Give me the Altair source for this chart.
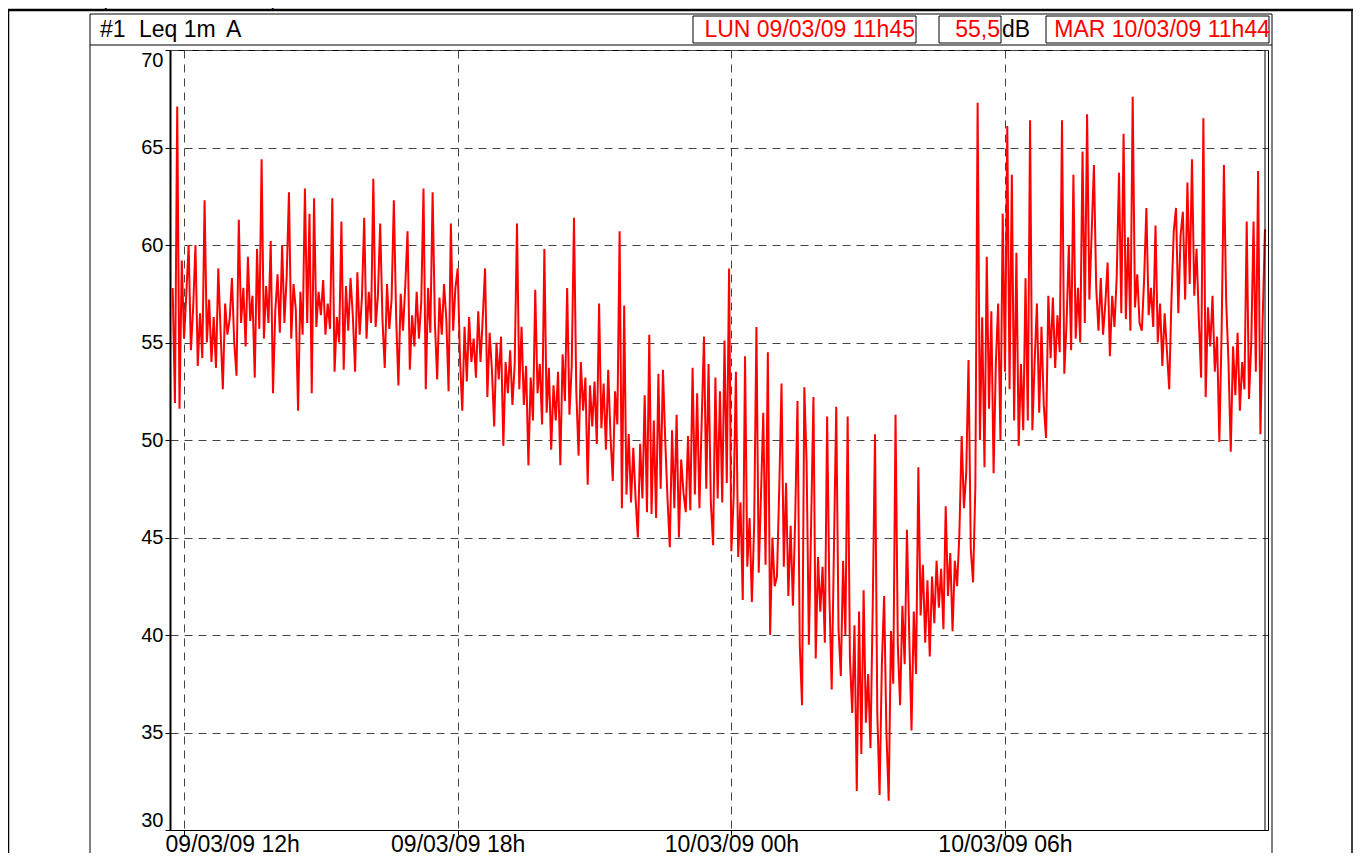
import altair as alt
import pandas as pd

# ---------------- texts ----------------
TITLE = "Profilo temporale del livello equivalente di rumore"
CHANNEL_ID = "#1"
CHANNEL_NAME = "Leq 1m"
CHANNEL_WEIGHT = "A"
START_LABEL = "LUN 09/03/09 11h45"
END_LABEL = "MAR 10/03/09 11h44"
LEQ_TOTAL = "55,5"
UNIT = "dB"

X_TICKS = [720, 1080, 1440, 1800]          # minutes since 09/03/09 00h
X_TICK_LABELS = ["09/03/09 12h", "09/03/09 18h", "10/03/09 00h", "10/03/09 06h"]
Y_TICKS = [30, 35, 40, 45, 50, 55, 60, 65, 70]

START_MIN = 705   # 11h45
STEP_MIN = 3

# ---------------- Leq 1m values (dB(A)) ----------------
leq_11h45 = [57.8, 51.9, 67.1, 51.6, 59.2]
leq_12h = [55.2, 57.5, 60.0, 54.6, 56.8, 60.0, 53.8, 56.5, 54.2, 62.3,
           55.0, 57.2, 54.0, 56.3, 53.7, 58.8, 55.6, 52.6, 57.0, 55.4]
leq_13h = [56.2, 58.3, 55.0, 53.3, 61.3, 56.0, 57.8, 54.8, 59.4, 56.1,
           57.4, 53.2, 59.8, 55.7, 64.4, 55.2, 57.9, 56.0, 60.2, 52.4]
leq_14h = [56.6, 58.5, 55.5, 60.0, 56.0, 58.4, 62.7, 55.2, 58.0, 56.7,
           51.5, 57.6, 55.4, 62.9, 56.0, 61.6, 52.4, 62.4, 55.8, 57.6]
leq_15h = [56.4, 58.2, 55.4, 57.0, 55.7, 62.4, 53.5, 56.3, 55.0, 61.2,
           53.6, 57.9, 55.6, 58.3, 56.4, 53.5, 58.6, 55.4, 57.3, 61.4]
leq_16h = [55.2, 57.6, 56.0, 63.4, 55.8, 57.4, 61.1, 56.2, 53.7, 58.0,
           55.7, 57.2, 62.3, 56.3, 52.8, 57.5, 55.6, 57.9, 60.7, 53.6]
leq_17h = [56.4, 54.8, 57.6, 55.2, 57.0, 62.9, 52.6, 57.8, 55.5, 62.7,
           56.0, 53.1, 57.3, 55.4, 58.0, 56.2, 52.5, 61.1, 55.6, 57.8]
leq_18h = [58.8, 54.2, 51.5, 55.8, 53.0, 56.3, 54.0, 55.2, 53.2, 56.6,
           54.0, 56.3, 58.8, 52.2, 55.5, 53.6, 50.7, 55.0, 53.1, 55.3]
leq_19h = [49.7, 54.0, 52.4, 54.6, 51.8, 53.9, 61.1, 52.6, 55.8, 51.8,
           53.8, 48.7, 53.2, 51.0, 57.7, 52.4, 53.9, 50.8, 59.8, 51.4]
leq_20h = [53.7, 49.5, 52.8, 51.0, 53.5, 48.7, 54.4, 52.0, 57.8, 51.3,
           53.8, 61.4, 52.5, 49.2, 54.0, 51.5, 53.2, 47.7, 52.8, 50.7]
leq_21h = [53.0, 49.8, 57.0, 50.6, 52.9, 49.5, 53.6, 50.2, 47.9, 52.5,
           50.8, 60.7, 46.5, 56.9, 47.2, 50.3, 46.8, 49.6, 47.0, 45.0]
leq_22h = [49.8, 47.0, 52.3, 46.3, 55.4, 46.2, 51.0, 46.0, 53.4, 47.5,
           53.6, 50.0, 47.0, 44.5, 50.5, 46.5, 51.3, 45.0, 49.0, 47.3]
leq_23h = [46.3, 50.2, 46.4, 53.7, 47.2, 52.4, 46.5, 51.0, 55.3, 47.5,
           53.9, 46.8, 44.6, 53.2, 47.0, 52.5, 46.8, 55.1, 47.8, 58.8]
leq_00h = [44.3, 47.0, 53.5, 44.0, 46.8, 41.8, 54.3, 43.5, 46.0, 41.7,
           45.6, 55.8, 43.2, 47.2, 51.4, 43.6, 54.5, 40.0, 45.0, 42.5]
leq_01h = [43.0, 47.5, 52.9, 43.5, 47.8, 42.0, 45.6, 41.5, 46.0, 52.0,
           39.5, 36.4, 52.7, 48.8, 39.5, 45.8, 52.2, 38.8, 44.0, 41.2]
leq_02h = [43.5, 39.6, 51.2, 42.0, 37.2, 44.5, 51.7, 40.3, 37.9, 43.8,
           40.0, 51.2, 38.8, 36.0, 40.5, 32.0, 41.2, 33.9, 42.3, 35.5]
leq_03h = [38.0, 34.2, 41.5, 50.3, 36.0, 31.8, 38.5, 42.0, 35.0, 31.5,
           40.2, 37.5, 51.3, 39.5, 36.4, 41.5, 38.5, 45.4, 40.0, 35.1]
leq_04h = [41.2, 38.0, 48.6, 41.0, 43.6, 39.6, 42.8, 38.9, 43.0, 40.6,
           43.8, 41.4, 43.4, 40.3, 46.6, 42.0, 44.2, 40.2, 43.8, 42.5]
leq_05h = [45.2, 50.2, 46.5, 48.3, 54.1, 44.4, 42.7, 47.6, 67.3, 50.0,
           56.3, 48.6, 59.4, 51.6, 56.6, 48.3, 54.0, 57.0, 50.0, 61.6]
leq_06h = [53.5, 66.1, 52.6, 63.6, 51.0, 59.6, 49.7, 53.9, 50.5, 58.3,
           51.0, 66.4, 50.5, 54.0, 57.0, 51.4, 55.8, 51.8, 50.1, 57.4]
leq_07h = [54.2, 57.3, 53.7, 56.4, 54.5, 66.4, 53.4, 56.0, 60.0, 54.6,
           63.6, 55.2, 57.8, 55.0, 64.8, 56.0, 66.7, 57.2, 60.6, 64.1]
leq_08h = [57.8, 55.6, 58.3, 55.4, 57.0, 59.1, 54.3, 57.4, 55.8, 58.4,
           63.7, 56.5, 65.7, 56.2, 60.4, 55.6, 67.6, 56.8, 58.5, 56.0]
leq_09h = [55.6, 58.2, 61.9, 56.4, 57.8, 55.8, 61.0, 55.0, 57.0, 53.8,
           56.5, 54.6, 52.6, 57.2, 60.7, 61.9, 56.5, 60.5, 61.7, 57.2]
leq_10h = [63.2, 58.0, 64.4, 57.4, 59.8, 56.2, 53.2, 66.5, 52.2, 56.8,
           54.8, 57.4, 53.5, 55.3, 49.9, 55.6, 64.1, 57.1, 54.0, 49.4]
leq_11h = [54.8, 52.3, 55.5, 51.5, 54.0, 52.6, 61.2, 52.1, 55.0, 61.2,
           53.5, 63.8, 50.3, 56.2, 60.8]

leq = (leq_11h45 + leq_12h + leq_13h + leq_14h + leq_15h + leq_16h + leq_17h
       + leq_18h + leq_19h + leq_20h + leq_21h + leq_22h + leq_23h + leq_00h
       + leq_01h + leq_02h + leq_03h + leq_04h + leq_05h + leq_06h + leq_07h
       + leq_08h + leq_09h + leq_10h + leq_11h)

df = pd.DataFrame({"t": [START_MIN + STEP_MIN * i for i in range(len(leq))],
                   "leq": leq})

FONT = "Liberation Sans"
X_DOMAIN = [701.5, 2146.0]
PLOT_W, PLOT_H = 1098, 780

label_expr = " : ".join(
    f"datum.value == {v} ? '{lab}'" for v, lab in zip(X_TICKS, X_TICK_LABELS)
) + " : ''"

line = alt.Chart(df).mark_line(color="#ff0000", strokeWidth=2.0, clip=True).encode(
    x=alt.X("t:Q", scale=alt.Scale(domain=X_DOMAIN, nice=False, zero=False),
            axis=alt.Axis(values=X_TICKS, labelExpr=label_expr, title=None,
                          grid=True, gridDash=[8, 6], gridColor="#444444",
                          tickSize=5, tickColor="black", domainColor="black",
                          labelFontSize=23, labelPadding=-2, labelFlush=20,
                          labelFlushOffset=19, labelOverlap=False)),
    y=alt.Y("leq:Q", scale=alt.Scale(domain=[30, 70], nice=False, zero=False),
            axis=alt.Axis(values=Y_TICKS, title=None, grid=True,
                          gridDash=[8, 6], gridColor="#444444",
                          tickSize=5, tickColor="black", domainColor="black",
                          domainWidth=2, labelFontSize=20, labelPadding=2,
                          labelFlush=True)),
)

one = pd.DataFrame({"k": [0]})

# page coords -> plot coords (plot origin at page (170, 50))
def px(x):
    return x - 170

def py(y):
    return y - 50

def rule(x1, x2, y1, y2, w=1.0, color="black"):
    return alt.Chart(one).mark_rule(color=color, strokeWidth=w).encode(
        x=alt.value(px(x1)), x2=alt.value(px(x2)),
        y=alt.value(py(y1)), y2=alt.value(py(y2)))

def box(x1, x2, y1, y2):
    return alt.Chart(one).mark_rect(fill="white", stroke="black", strokeWidth=1).encode(
        x=alt.value(px(x1)), x2=alt.value(px(x2)),
        y=alt.value(py(y1)), y2=alt.value(py(y2)))

def label(x, y, txt, align="left", color="black", size=23):
    return alt.Chart(one).mark_text(align=align, baseline="middle", font=FONT,
                                    fontSize=size, color=color).encode(
        x=alt.value(px(x)), y=alt.value(py(y)), text=alt.value(txt))

deco = [
    label(8, 0, TITLE, size=20),
    rule(0, 1361, 10, 10, 2.5),          # top frame line
    rule(8.5, 8.5, 10, 900, 1.5),        # outer left border
    rule(1352, 1352, 10, 900, 1.5),      # outer right border
    rule(90, 90, 14, 900, 1),            # panel left
    rule(90, 1272, 14, 14, 1),           # panel top
    rule(1272, 1272, 14, 900, 1),        # panel right
    rule(90, 1272, 45, 45, 1),           # header bottom
    rule(1265, 1265, 50, 830, 1),        # right double edge
    box(693, 916, 16, 43),
    box(939, 1001, 16, 43),
    box(1046, 1269, 16, 43),
    label(100, 30, CHANNEL_ID),
    label(139, 30, CHANNEL_NAME),
    label(226, 30, CHANNEL_WEIGHT),
    label(915, 30, START_LABEL, align="right", color="#ff0000"),
    label(1000, 30, LEQ_TOTAL, align="right", color="#ff0000"),
    label(1002, 30, UNIT),
    label(1270, 30, END_LABEL, align="right", color="#ff0000"),
]

chart = alt.layer(line, *deco).properties(
    width=PLOT_W, height=PLOT_H,
    autosize=alt.AutoSizeParams(type="none"),
    padding={"left": 162, "top": 42, "right": 85, "bottom": 23},
    background="white",
).configure_view(stroke="black", strokeWidth=1).configure_axis(
    labelFont=FONT, labelColor="black"
)

chart.save("out.html", embed_options={"renderer": "svg", "actions": False})
